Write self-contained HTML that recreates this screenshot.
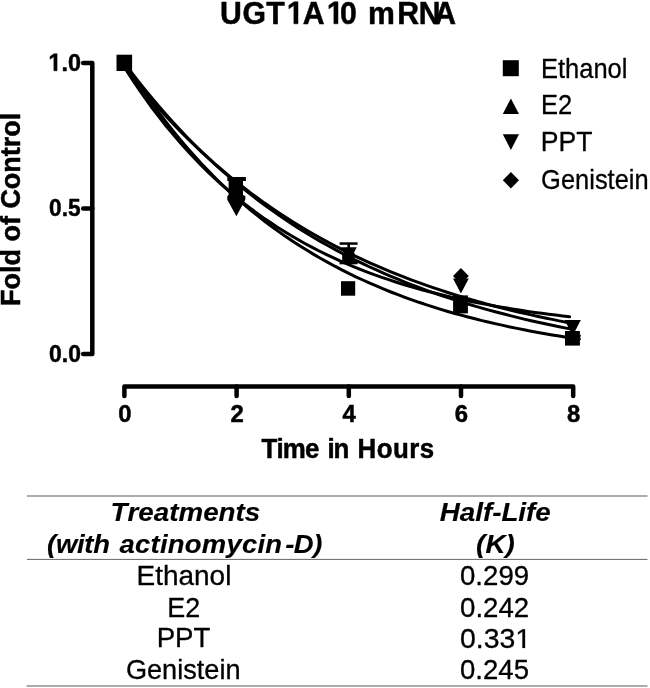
<!DOCTYPE html>
<html><head><meta charset="utf-8"><title>UGT1A10 mRNA</title>
<style>
html,body{margin:0;padding:0;background:#fff;}
svg{display:block;font-family:"Liberation Sans",sans-serif;filter:grayscale(1);}
</style></head><body>
<svg width="650" height="688" viewBox="0 0 650 688">
<rect width="650" height="688" fill="#fff"/>

<g transform="translate(0,23.80) scale(0.9440,1)" font-size="32" font-weight="bold" font-style="normal" stroke="#000" stroke-width="0.5" stroke-linejoin="round"><text x="233.11 256.96 282.06 303.82 320.78 346.19 360.30 378.10 389.90 420.81 443.62 460.15" y="0">UGT<tspan visibility="hidden">1</tspan>A<tspan visibility="hidden">1</tspan>0 mRNA</text><path d="M311.29,0.00 L311.29,-18.28 L306.01,-14.98 L306.01,-18.44 L311.52,-22.02 L315.68,-22.02 L315.68,0.00Z"/><path d="M353.66,0.00 L353.66,-18.28 L348.38,-14.98 L348.38,-18.44 L353.89,-22.02 L358.05,-22.02 L358.05,0.00Z"/></g>
<g stroke="#000" stroke-width="4.5" stroke-linecap="round" stroke-linejoin="round" fill="none">
<path d="M83.2,62.9 H92.3 V354.0 H83.2"/>
<path d="M83.2,208.4 H92.3"/>
<path d="M124.4,396 V386.4 H573.2 V396"/>
<path d="M236.6,386.4 V396"/>
<path d="M348.8,386.4 V396"/>
<path d="M461.0,386.4 V396"/>
</g>
<g transform="translate(0,70.80) scale(0.9445,1)" font-size="24.8" font-weight="bold" font-style="normal" stroke="#000" stroke-width="0.5" stroke-linejoin="round"><text x="51.24 65.04 71.93" y="0"><tspan visibility="hidden">1</tspan>.0</text><path d="M57.03,0.00 L57.03,-14.17 L52.94,-11.61 L52.94,-14.29 L57.21,-17.06 L60.43,-17.06 L60.43,0.00Z"/></g>
<g transform="translate(0,216.35) scale(0.9145,1)" font-size="24.8" font-weight="bold" font-style="normal" stroke="#000" stroke-width="0.5" stroke-linejoin="round"><text x="53.69 67.49 74.38" y="0">0.5</text></g>
<g transform="translate(0,361.90) scale(0.9237,1)" font-size="24.8" font-weight="bold" font-style="normal" stroke="#000" stroke-width="0.5" stroke-linejoin="round"><text x="53.15 66.94 73.83" y="0">0.0</text></g>
<g transform="translate(0,421.60) scale(0.9637,1)" font-size="24.8" font-weight="bold" font-style="normal" stroke="#000" stroke-width="0.5" stroke-linejoin="round"><text x="122.62" y="0">0</text></g>
<g transform="translate(0,421.60) scale(0.9637,1)" font-size="24.8" font-weight="bold" font-style="normal" stroke="#000" stroke-width="0.5" stroke-linejoin="round"><text x="239.09" y="0">2</text></g>
<g transform="translate(0,421.60) scale(0.9637,1)" font-size="24.8" font-weight="bold" font-style="normal" stroke="#000" stroke-width="0.5" stroke-linejoin="round"><text x="355.33" y="0">4</text></g>
<g transform="translate(0,421.60) scale(0.9637,1)" font-size="24.8" font-weight="bold" font-style="normal" stroke="#000" stroke-width="0.5" stroke-linejoin="round"><text x="471.87" y="0">6</text></g>
<g transform="translate(0,421.60) scale(0.9637,1)" font-size="24.8" font-weight="bold" font-style="normal" stroke="#000" stroke-width="0.5" stroke-linejoin="round"><text x="588.29" y="0">8</text></g>
<g transform="translate(0,458.10) scale(0.9450,1)" font-size="27.4" font-weight="bold" font-style="normal" stroke="#000" stroke-width="0.5" stroke-linejoin="round"><text x="276.84 292.63 299.31 322.73 337.97 346.55 353.00 369.74 378.27 398.59 415.85 433.11 444.30" y="0">Time in Hours</text></g>
<g transform="translate(20.10,0) rotate(-90) scale(0.9983,1)" font-size="27.0" font-weight="bold" font-style="normal" stroke="#000" stroke-width="0.5" stroke-linejoin="round"><text x="-306.43 -289.94 -273.44 -265.94 -249.45 -241.95 -225.45 -216.46 -208.96 -189.46 -172.97 -156.48 -147.49 -136.98 -120.49" y="0">Fold of Control</text></g>
<g stroke="#000" stroke-width="3" fill="none" stroke-linecap="round" stroke-linejoin="round">
<path d="M124.4,62.0 L131.4,73.1 L138.4,83.7 L145.4,94.0 L152.5,103.9 L159.5,113.4 L166.5,122.6 L173.5,131.4 L180.5,140.0 L187.5,148.2 L194.5,156.1 L201.5,163.8 L208.6,171.1 L215.6,178.2 L222.6,185.0 L229.6,191.6 L236.6,198.0 L243.6,204.1 L250.6,210.0 L257.6,215.7 L264.6,221.2 L271.7,226.5 L278.7,231.6 L285.7,236.5 L292.7,241.2 L299.7,245.7 L306.7,250.1 L313.7,254.4 L320.8,258.5 L327.8,262.4 L334.8,266.2 L341.8,269.8 L348.8,273.4 L355.8,276.8 L362.8,280.0 L369.8,283.2 L376.9,286.2 L383.9,289.1 L390.9,292.0 L397.9,294.7 L404.9,297.3 L411.9,299.8 L418.9,302.3 L425.9,304.6 L433.0,306.9 L440.0,309.1 L447.0,311.2 L454.0,313.2 L461.0,315.1 L468.0,317.0 L475.0,318.8 L482.0,320.6 L489.1,322.3 L496.1,323.9 L503.1,325.4 L510.1,327.0 L517.1,328.4 L524.1,329.8 L531.1,331.2 L538.1,332.5 L545.1,333.7 L552.2,334.9 L559.2,336.1 L566.2,337.2 L573.2,338.3"/>
<path d="M124.4,67.0 L131.4,75.9 L138.4,84.6 L145.4,93.0 L152.5,101.1 L159.5,109.1 L166.5,116.7 L173.5,124.2 L180.5,131.4 L187.5,138.4 L194.5,145.2 L201.5,151.8 L208.6,158.2 L215.6,164.5 L222.6,170.5 L229.6,176.3 L236.6,182.0 L243.6,187.5 L250.6,192.9 L257.6,198.0 L264.6,203.1 L271.7,208.0 L278.7,212.7 L285.7,217.3 L292.7,221.7 L299.7,226.1 L306.7,230.3 L313.7,234.3 L320.8,238.3 L327.8,242.1 L334.8,245.8 L341.8,249.4 L348.8,252.9 L355.8,256.3 L362.8,259.6 L369.8,262.8 L376.9,265.9 L383.9,268.9 L390.9,271.8 L397.9,274.7 L404.9,277.4 L411.9,280.1 L418.9,282.6 L425.9,285.2 L433.0,287.6 L440.0,289.9 L447.0,292.2 L454.0,294.5 L461.0,296.6 L468.0,298.7 L475.0,300.7 L482.0,302.7 L489.1,304.6 L496.1,306.5 L503.1,308.3 L510.1,310.0 L517.1,311.7 L524.1,313.3 L531.1,314.9 L538.1,316.5 L545.1,318.0 L552.2,319.4 L559.2,320.9 L566.2,322.2 L573.2,323.5"/>
<path d="M124.4,67.3 L131.4,78.1 L138.3,88.5 L145.3,98.4 L152.2,108.0 L159.2,117.2 L166.1,126.0 L173.1,134.4 L180.1,142.6 L187.0,150.3 L194.0,157.8 L200.9,165.0 L207.9,171.9 L214.8,178.5 L221.8,184.8 L228.7,190.9 L235.7,196.8 L242.7,202.4 L249.6,207.8 L256.6,212.9 L263.5,217.9 L270.5,222.6 L277.4,227.2 L284.4,231.6 L291.4,235.8 L298.3,239.8 L305.3,243.7 L312.2,247.4 L319.2,251.0 L326.1,254.4 L333.1,257.7 L340.0,260.9 L347.0,263.9 L354.0,266.8 L360.9,269.6 L367.9,272.3 L374.8,274.9 L381.8,277.3 L388.7,279.7 L395.7,282.0 L402.7,284.2 L409.6,286.3 L416.6,288.3 L423.5,290.2 L430.5,292.0 L437.4,293.8 L444.4,295.5 L451.4,297.2 L458.3,298.7 L465.3,300.2 L472.2,301.7 L479.2,303.1 L486.1,304.4 L493.1,305.7 L500.0,306.9 L507.0,308.1 L514.0,309.2 L520.9,310.3 L527.9,311.4 L534.8,312.4 L541.8,313.3 L548.7,314.2 L555.7,315.1 L562.7,316.0 L569.6,316.8"/>
<path d="M124.4,62.9 L131.4,72.3 L138.4,81.3 L145.4,90.1 L152.5,98.7 L159.5,107.0 L166.5,115.0 L173.5,122.8 L180.5,130.3 L187.5,137.7 L194.5,144.8 L201.5,151.6 L208.6,158.3 L215.6,164.8 L222.6,171.1 L229.6,177.2 L236.6,183.1 L243.6,188.8 L250.6,194.4 L257.6,199.8 L264.6,205.0 L271.7,210.1 L278.7,215.0 L285.7,219.8 L292.7,224.4 L299.7,228.9 L306.7,233.3 L313.7,237.5 L320.8,241.6 L327.8,245.5 L334.8,249.4 L341.8,253.1 L348.8,256.7 L355.8,260.3 L362.8,263.7 L369.8,267.0 L376.9,270.2 L383.9,273.3 L390.9,276.3 L397.9,279.2 L404.9,282.1 L411.9,284.8 L418.9,287.5 L425.9,290.1 L433.0,292.6 L440.0,295.0 L447.0,297.4 L454.0,299.6 L461.0,301.9 L468.0,304.0 L475.0,306.1 L482.0,308.1 L489.1,310.1 L496.1,312.0 L503.1,313.8 L510.1,315.6 L517.1,317.4 L524.1,319.1 L531.1,320.7 L538.1,322.3 L545.1,323.8 L552.2,325.3 L559.2,326.7 L566.2,328.1 L573.2,329.5"/>
</g>
<g fill="#000">
<rect x="116.5" y="54.7" width="15.6" height="16.3"/>
<path d="M227.3,177.0 L245.9,177.0 L245.9,181.0 L243.0,181.0 L243.0,195.0 L245.3,196.0 L245.3,199.7 L236.4,216.3 L227.3,199.7 L227.3,196.0 L228.6,195.0 L228.6,181.0 L227.3,181.0Z"/>
<rect x="339.6" y="242.3" width="18.0" height="2.5"/>
<rect x="347.4" y="244.0" width="2.6" height="19.0"/>
<path d="M341.3,247.2 L356.7,247.2 L349.0,262.9Z"/>
<rect x="339.6" y="260.6" width="18.0" height="3.7"/>
<rect x="342.2" y="253.0" width="12.3" height="8.5"/>
<rect x="341.0" y="281.2" width="14.2" height="14.5"/>
<path d="M453.0,276.1 L460.9,267.9 L468.8,276.1 L460.9,284.4Z"/>
<path d="M453.0,278.5 L468.8,278.5 L460.9,293.6Z"/>
<rect x="453.1" y="295.4" width="14.8" height="18.0"/>
<path d="M564.6,320.0 L580.8,320.0 L572.7,335.8Z"/>
<rect x="565.0" y="331.0" width="14.9" height="14.6"/>
<path d="M579.5,334.0 L581.0,335.5 L580.2,337.5 L581.0,339.5 L579.5,341.0Z"/>
</g>
<g fill="#000">
<rect x="502.8" y="60.2" width="16" height="16"/>
<path d="M502.8,113.9 L519.0,113.9 L510.9,98.4Z"/>
<path d="M502.8,134.3 L519.0,134.3 L510.9,150.0Z"/>
<path d="M502.8,180.3 L510.9,172.1 L519.0,180.3 L510.9,188.5Z"/>
</g>
<g transform="translate(0,77.50) scale(0.9353,1)" font-size="27.3" font-weight="normal" font-style="normal" stroke="#000" stroke-width="0.3" stroke-linejoin="round"><text x="578.31 596.51 604.10 619.28 634.46 649.65 664.83" y="0">Ethanol</text></g>
<g transform="translate(0,114.00) scale(0.9353,1)" font-size="27.3" font-weight="normal" font-style="normal" stroke="#000" stroke-width="0.3" stroke-linejoin="round"><text x="578.31 596.52" y="0">E2</text></g>
<g transform="translate(0,151.40) scale(0.9756,1)" font-size="27.3" font-weight="normal" font-style="normal" stroke="#000" stroke-width="0.3" stroke-linejoin="round"><text x="554.37 572.57 590.78" y="0">PPT</text></g>
<g transform="translate(0,188.90) scale(0.9324,1)" font-size="27.3" font-weight="normal" font-style="normal" stroke="#000" stroke-width="0.3" stroke-linejoin="round"><text x="580.36 601.60 616.78 631.96 638.03 651.68 659.26 674.45 680.51" y="0">Genistein</text></g>
<path d="M27,496 H647.5" stroke="#acacac" stroke-width="2"/>
<path d="M27,559.4 H647.5" stroke="#666" stroke-width="1"/>
<path d="M26.5,685.9 H647.5" stroke="#acacac" stroke-width="2"/>
<g transform="translate(0,520.90) scale(1.0716,1)" font-size="25.9" font-weight="bold" font-style="italic" stroke="#000" stroke-width="0.15" stroke-linejoin="round"><text x="103.24 119.06 129.14 143.55 157.95 166.58 189.61 204.01 219.83 228.46" y="0">Treatments</text></g>
<g transform="translate(0,552.90) scale(1.0600,1)" font-size="25.9" font-weight="bold" font-style="italic" stroke="#000" stroke-width="0.15" stroke-linejoin="round"><text x="44.44 52.79 72.65 79.56 87.91 103.73 112.70 127.34 141.98 150.84 158.27 174.33 190.39 213.65 228.29 242.93 250.36 266.18 269.01 277.23 295.53" y="0">(with actinomycin -D)</text></g>
<g transform="translate(0,520.90) scale(1.0720,1)" font-size="25.9" font-weight="bold" font-style="italic" stroke="#000" stroke-width="0.15" stroke-linejoin="round"><text x="410.17 428.88 443.28 450.48 459.10 467.73 483.55 490.74 499.37" y="0">Half-Life</text></g>
<g transform="translate(0,552.90) scale(1.0771,1)" font-size="25.9" font-weight="bold" font-style="italic" stroke="#000" stroke-width="0.15" stroke-linejoin="round"><text x="442.02 450.65 469.35" y="0">(K)</text></g>
<g transform="translate(0,584.90) scale(1.0321,1)" font-size="27.1" font-weight="normal" font-style="normal" stroke="#000" stroke-width="0.3" stroke-linejoin="round"><text x="132.26 150.33 157.86 172.93 188.00 203.08 218.15" y="0">Ethanol</text></g>
<g transform="translate(0,616.50) scale(0.9945,1)" font-size="27.1" font-weight="normal" font-style="normal" stroke="#000" stroke-width="0.3" stroke-linejoin="round"><text x="168.21 186.28" y="0">E2</text></g>
<g transform="translate(0,647.40) scale(1.0189,1)" font-size="27.1" font-weight="normal" font-style="normal" stroke="#000" stroke-width="0.3" stroke-linejoin="round"><text x="153.74 171.81 189.89" y="0">PPT</text></g>
<g transform="translate(0,678.90) scale(1.0012,1)" font-size="27.1" font-weight="normal" font-style="normal" stroke="#000" stroke-width="0.3" stroke-linejoin="round"><text x="125.78 146.86 161.93 177.00 183.03 196.58 204.10 219.18 225.20" y="0">Genistein</text></g>
<g transform="translate(0,584.90) scale(1.0187,1)" font-size="27.1" font-weight="normal" font-style="normal" stroke="#000" stroke-width="0.3" stroke-linejoin="round"><text x="451.57 466.64 474.17 489.24 504.31" y="0">0.299</text></g>
<g transform="translate(0,616.50) scale(1.0200,1)" font-size="27.1" font-weight="normal" font-style="normal" stroke="#000" stroke-width="0.3" stroke-linejoin="round"><text x="451.02 466.09 473.62 488.69 503.76" y="0">0.242</text></g>
<g transform="translate(0,647.90) scale(1.0493,1)" font-size="27.1" font-weight="normal" font-style="normal" stroke="#000" stroke-width="0.3" stroke-linejoin="round"><text x="438.36 453.43 460.96 476.03 491.11" y="0">0.33<tspan visibility="hidden">1</tspan></text><path d="M497.92,0.00 L497.92,-16.37 L493.71,-13.36 L493.71,-15.61 L498.12,-18.64 L500.32,-18.64 L500.32,0.00Z"/></g>
<g transform="translate(0,679.30) scale(1.0165,1)" font-size="27.1" font-weight="normal" font-style="normal" stroke="#000" stroke-width="0.3" stroke-linejoin="round"><text x="452.57 467.64 475.17 490.25 505.32" y="0">0.245</text></g>
</svg></body></html>
